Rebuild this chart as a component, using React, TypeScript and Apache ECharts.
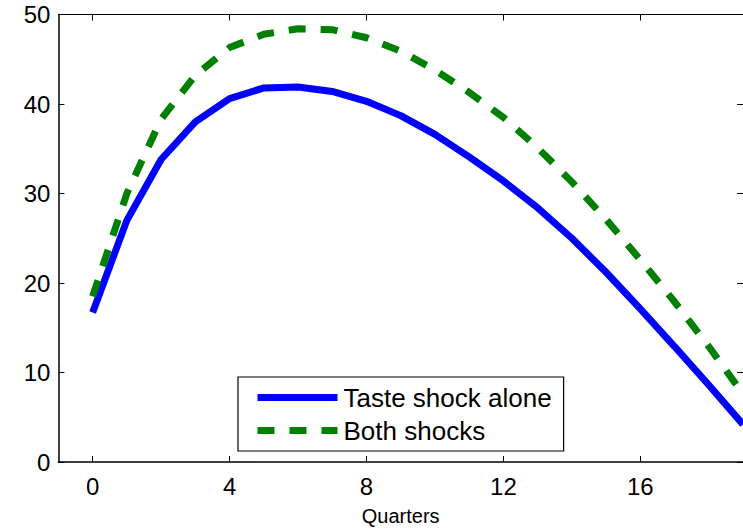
import React, { useEffect, useRef } from "react";
import * as echarts from "echarts";

const quarters = [0, 1, 2, 3, 4, 5, 6, 7, 8, 9, 10, 11, 12, 13, 14, 15, 16, 17, 18, 19];
const tasteShockAlone = [16.7, 27.0, 33.8, 38.0, 40.6, 41.8, 41.9, 41.4, 40.3, 38.7, 36.6, 34.1, 31.4, 28.4, 25.0, 21.2, 17.1, 12.9, 8.6, 4.2];
const bothShocks = [18.5, 30.0, 38.3, 43.2, 46.3, 47.8, 48.4, 48.3, 47.4, 45.9, 43.8, 41.3, 38.5, 35.1, 31.3, 27.1, 22.6, 17.9, 12.9, 7.6];
const xTickValues = [0, 4, 8, 12, 16];
const seriesNames = ["Taste shock alone", "Both shocks"];
const xAxisTitle = "Quarters";

const FONT = "Liberation Sans, Arial, Helvetica, sans-serif";

export default function App() {
  const ref = useRef<HTMLDivElement>(null);
  useEffect(() => {
    if (!ref.current) return;
    const chart = echarts.init(ref.current, undefined, { renderer: "svg" });
    const pairs = (ys: number[]) => quarters.map((q, i) => [q, ys[i]]);
    chart.setOption({
      animation: false,
      backgroundColor: "#ffffff",
      grid: { left: 58.4, top: 14.5, right: 0, bottom: 66, containLabel: false },
      legend: {
        left: 238,
        top: 377,
        orient: "vertical",
        padding: [4, 12, 4, 16],
        itemGap: 0,
        itemWidth: 80,
        itemHeight: 14,
        borderColor: "#000",
        borderWidth: 1.2,
        backgroundColor: "#fff",
        lineStyle: { width: 7 },
        itemStyle: { opacity: 0, color: "transparent", borderWidth: 0 },
        textStyle: { fontSize: 26, fontFamily: FONT, color: "#000", lineHeight: 33, padding: [0, 0, 0, 1] },
        data: seriesNames,
      },
      xAxis: [
        {
          type: "value",
          min: -1,
          max: 19,
          position: "bottom",
          name: xAxisTitle,
          nameLocation: "middle",
          nameGap: 44,
          nameTextStyle: { fontSize: 20, fontFamily: FONT, color: "#000" },
          axisLine: { show: true, onZero: false, lineStyle: { color: "#000", width: 1.5 } },
          axisTick: { show: true, inside: true, length: 6, customValues: xTickValues, lineStyle: { color: "#000", width: 1 } },
          axisLabel: { show: true, margin: 12, customValues: xTickValues, fontSize: 24, fontFamily: FONT, color: "#000" },
          splitLine: { show: false },
        },
        {
          type: "value",
          min: -1,
          max: 19,
          position: "top",
          axisLine: { show: true, onZero: false, lineStyle: { color: "#000", width: 1 } },
          axisTick: { show: true, inside: true, length: 6, customValues: xTickValues, lineStyle: { color: "#000", width: 1 } },
          axisLabel: { show: false },
          splitLine: { show: false },
        },
      ],
      yAxis: [
        {
          type: "value",
          min: 0,
          max: 50,
          interval: 10,
          position: "left",
          axisLine: { show: true, onZero: false, lineStyle: { color: "#000", width: 1.5 } },
          axisTick: { show: true, inside: true, length: 6, lineStyle: { color: "#000", width: 1 } },
          axisLabel: { show: true, margin: 8, fontSize: 24, fontFamily: FONT, color: "#000" },
          splitLine: { show: false },
        },
        {
          type: "value",
          min: 0,
          max: 50,
          interval: 10,
          position: "right",
          axisLine: { show: true, onZero: false, lineStyle: { color: "#000", width: 1 } },
          axisTick: { show: true, inside: true, length: 6, lineStyle: { color: "#000", width: 1 } },
          axisLabel: { show: false },
          splitLine: { show: false },
        },
      ],
      series: [
        {
          name: seriesNames[0],
          type: "line",
          data: pairs(tasteShockAlone),
          showSymbol: false,
          symbol: "none",
          color: "#0000ff",
          lineStyle: { color: "#0000ff", width: 7, type: "solid" },
        },
        {
          name: seriesNames[1],
          type: "line",
          data: pairs(bothShocks),
          showSymbol: false,
          symbol: "none",
          color: "#008000",
          lineStyle: { color: "#008000", width: 7, type: [17, 15] },
        },
      ],
    });
    return () => chart.dispose();
  }, []);
  return (
    <div
      ref={ref}
      style={{ position: "fixed", left: 0, top: 0, width: 743, height: 531, background: "#fff" }}
    />
  );
}
